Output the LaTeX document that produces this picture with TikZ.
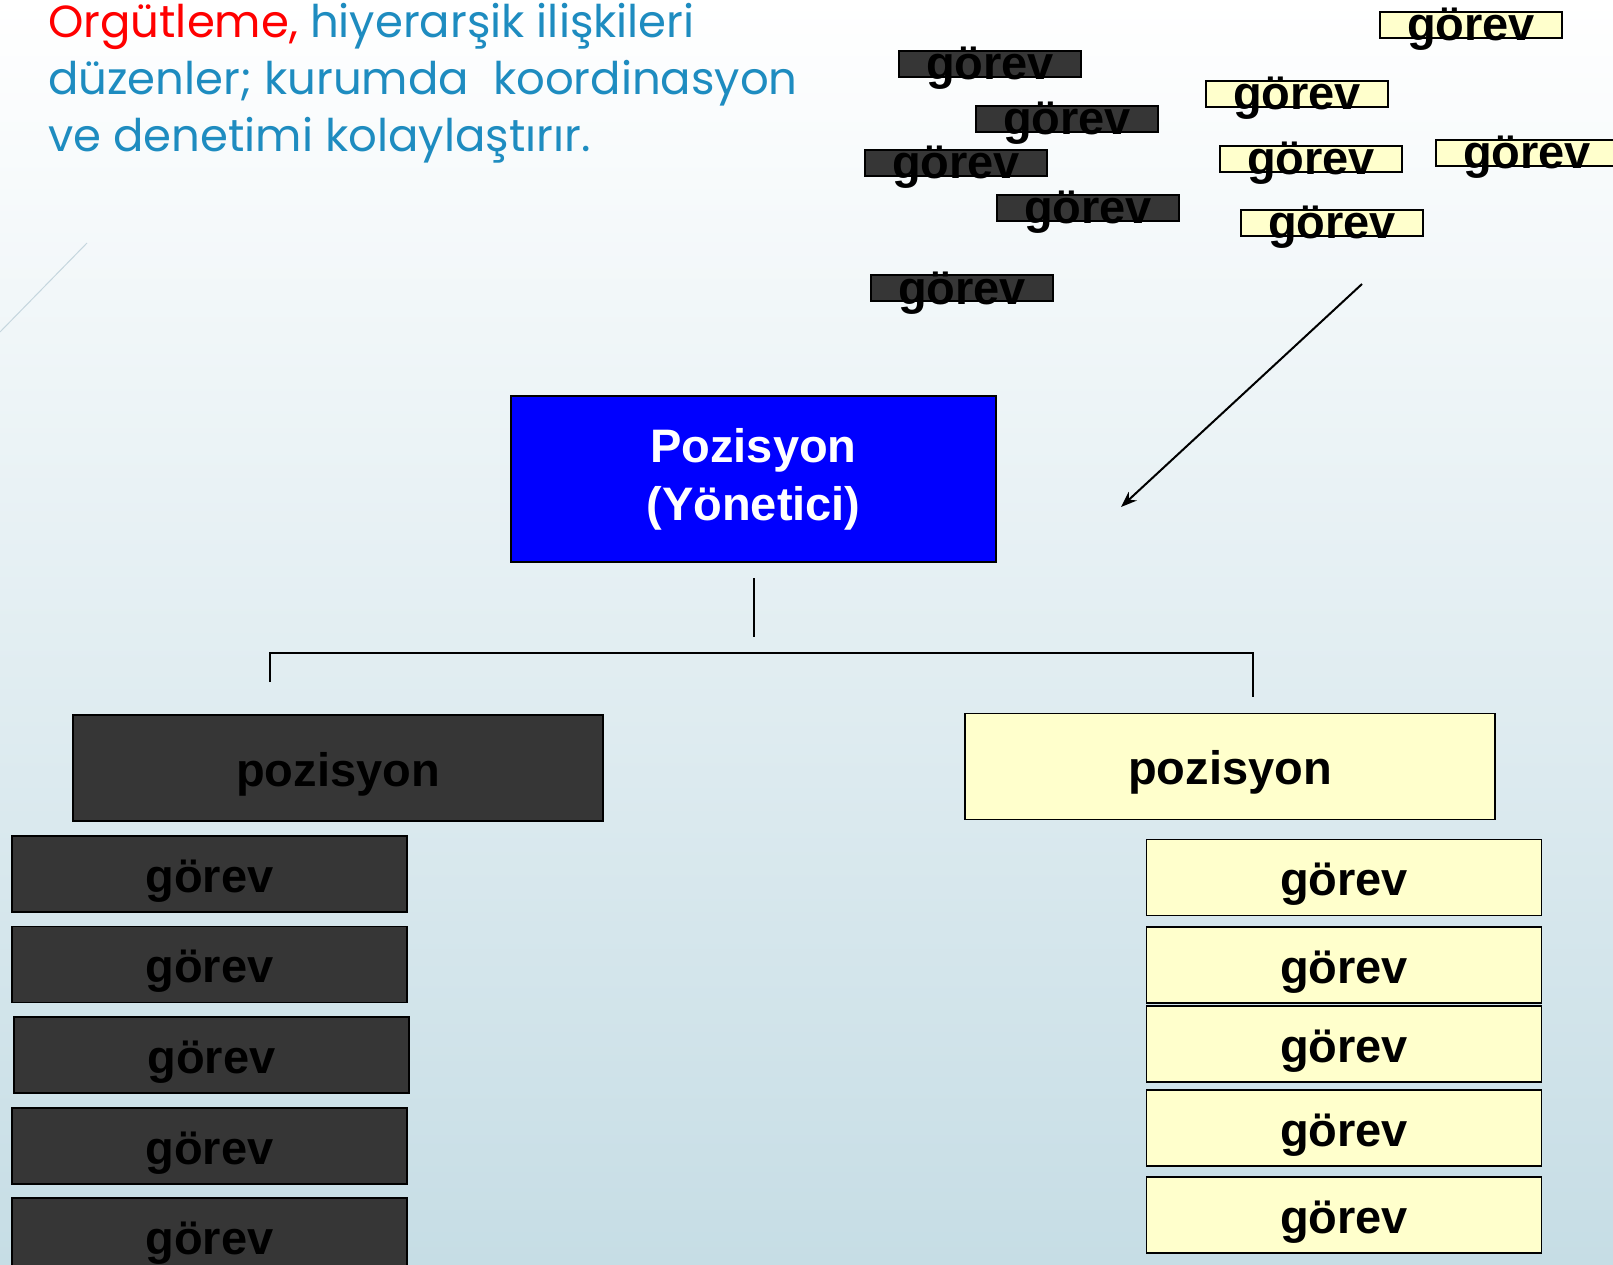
\documentclass[tikz,border=0pt]{standalone}
\usepackage{fontspec}
\setmainfont{Liberation Sans}
\newfontfamily\headfont{Poppins}
\usetikzlibrary{arrows.meta}

\definecolor{bossblue}{HTML}{0000FF}
\definecolor{darkbox}{HTML}{363636}
\definecolor{paleyellow}{HTML}{FFFFCC}
\definecolor{headred}{HTML}{FF0000}
\definecolor{headblue}{HTML}{1E8CC0}
\definecolor{bgbottom}{HTML}{C6DDE5}
\definecolor{faintline}{HTML}{C5D6DE}

\newcommand{\sunk}[1]{\smash{\raisebox{-16pt}{#1}}}

\begin{document}
\begin{tikzpicture}[x=1pt, y=-1pt,
	boxtext/.style={font=\fontsize{47}{58}\selectfont\bfseries},
	headline/.style={font=\headfont\fontsize{45}{57}\selectfont, text=headblue, inner sep=0pt, anchor=base west},
	boss/.style={boxtext, draw=black, line width=2pt, fill=bossblue, text=white, align=center, minimum width=485pt, minimum height=166pt},
	darkpos/.style={boxtext, draw=black, line width=1.5pt, fill=darkbox, text=black, minimum width=530pt, minimum height=106pt, text height=36pt, text depth=0pt},
	lightpos/.style={darkpos, fill=paleyellow},
	darktask/.style={darkpos, minimum width=395pt, minimum height=76pt},
	lighttask/.style={darktask, fill=paleyellow},
	darkchip/.style={boxtext, draw=black, line width=1.5pt, fill=darkbox, text=black, inner sep=0pt, minimum width=182pt, minimum height=26pt},
	lightchip/.style={darkchip, fill=paleyellow},
	treeline/.style={draw=black, line width=1.5pt}
]
	\useasboundingbox (0,0) rectangle (1613,1265);
	\shade[top color=white, bottom color=bgbottom] (0,0) rectangle (1613,1265);
	\draw[faintline, line width=1pt] (87,243) -- (0,332);

	\node[headline] (headOne) at (48,38) {\textcolor{headred}{Orgütleme,} hiyerarşik ilişkileri};
	\node[headline] (headTwo) at (48,95) {düzenler; kurumda~ koordinasyon};
	\node[headline] (headThree) at (48,152) {ve denetimi kolaylaştırır.};

	\node[darkchip] (looseD1) at (990,64) {\sunk{görev}};
	\node[darkchip] (looseD2) at (1067,119) {\sunk{görev}};
	\node[darkchip] (looseD3) at (956,163) {\sunk{görev}};
	\node[darkchip] (looseD4) at (1088,208) {\sunk{görev}};
	\node[darkchip] (looseD5) at (962,288) {\sunk{görev}};

	\node[lightchip] (looseY1) at (1471,25) {\sunk{görev}};
	\node[lightchip] (looseY2) at (1297,94) {\sunk{görev}};
	\node[lightchip] (looseY3) at (1311,159) {\sunk{görev}};
	\node[lightchip] (looseY4) at (1527,153) {\sunk{görev}};
	\node[lightchip] (looseY5) at (1332,223) {\sunk{görev}};

	\coordinate (arrowFrom) at (1362,284);
	\coordinate (arrowTo) at (1121,507);
	\draw[-{Stealth[length=16pt,width=12pt]}, line width=2pt] (arrowFrom) -- (arrowTo);

	\node[boss] (boss) at (753.5,479) {Pozisyon\\(Yönetici)};

	\coordinate (trunkTop) at (754,578);
	\coordinate (trunkEnd) at (754,637);
	\coordinate (barLeft) at (270,653);
	\coordinate (barRight) at (1253,653);
	\coordinate (dropLeft) at (270,682);
	\coordinate (dropRight) at (1253,697);
	\draw[treeline] (trunkTop) -- (trunkEnd);
	\draw[treeline] (dropLeft) -- (barLeft) -- (barRight) -- (dropRight);

	\node[darkpos] (posLeft) at (338,768) {pozisyon};
	\node[lightpos] (posRight) at (1230,766.5) {pozisyon};

	\node[darktask] (taskL1) at (209.5,874) {görev};
	\node[darktask] (taskL2) at (209.5,964.5) {görev};
	\node[darktask] (taskL3) at (211.5,1055) {görev};
	\node[darktask] (taskL4) at (209.5,1146) {görev};
	\node[darktask] (taskL5) at (209.5,1236) {görev};

	\node[lighttask] (taskR1) at (1344,877.5) {görev};
	\node[lighttask] (taskR2) at (1344,965) {görev};
	\node[lighttask] (taskR3) at (1344,1044) {görev};
	\node[lighttask] (taskR4) at (1344,1128) {görev};
	\node[lighttask] (taskR5) at (1344,1215) {görev};
\end{tikzpicture}
\end{document}
